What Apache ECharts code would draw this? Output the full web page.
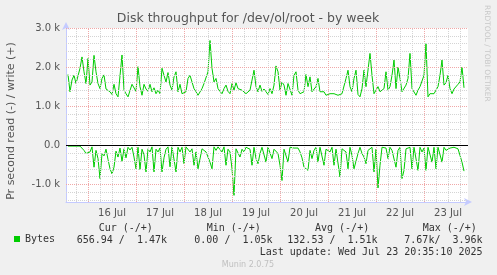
<!DOCTYPE html>
<html><head><meta charset="utf-8">
<script src="https://cdn.jsdelivr.net/npm/echarts@6/dist/echarts.min.js"></script>
<style>html,body{margin:0;padding:0;background:#f0f0f0;}#c{width:497px;height:275px;}</style>
</head><body><div id="c"></div>
<script>
// time in hours relative to 16 Jul 00:00, one sample per hour
const firstSampleHour = -10;
const sampleStepHours = 1;

// write (+) in kB/s
const writeKB = [
1.81,1.37,1.67,1.79,1.58,1.54,1.97,2.26,1.88,1.58,
2.22,1.54,1.62,2.30,1.88,1.58,1.45,1.71,1.80,1.44,
1.41,1.37,1.30,1.56,1.32,1.24,1.21,2.31,1.41,1.32,
1.24,1.26,1.56,1.52,1.38,2.01,1.50,1.28,1.56,1.44,
1.38,1.56,1.37,1.47,1.32,1.41,1.32,1.97,1.79,1.62,
1.86,
1.54,1.41,1.75,1.88,1.37,1.56,1.32,1.32,1.37,1.71,
1.79,1.75,1.45,1.37,1.28,1.26,1.45,1.58,1.62,1.88,
2.68,1.97,1.62,1.71,1.45,1.38,1.32,1.45,1.54,1.38,
1.32,1.58,1.41,1.60,1.45,1.44,1.41,1.38,1.32,1.32,
1.41,1.45,1.92,1.50,1.37,1.54,1.38,1.44,1.37,1.30,
1.45,1.32,1.54,2.03,1.88,1.41,1.62,1.54,1.28,1.58,
1.62,1.28,1.79,1.88,1.41,1.32,1.37,1.37,1.81,1.50,
1.75,1.37,1.37,1.50,1.71,1.37,1.32,1.37,1.28,1.28,
1.32,1.32,1.32,1.28,1.28,1.28,1.32,1.32,1.71,1.92,
1.50,1.37,1.71,1.92,1.30,1.24,1.45,1.92,1.50,1.45,
2.35,1.79,1.32,1.32,1.50,1.37,1.37,1.45,1.88,1.41,
1.50,1.79,2.18,1.45,2.00,1.71,1.37,1.37,1.54,1.71,
2.35,1.45,1.45,1.28,1.41,1.50,1.45,1.79,2.60,1.24,
1.32,1.37,1.32,1.32,1.50,1.79,2.18,1.54,1.60,1.79,
1.45,1.32,1.44,1.41,1.56,1.62,2.00,1.47
];

// read (-) in kB/s, drawn below zero
const readKB = [
0.02,0.03,0.02,0.03,0.02,0.00,0.02,0.00,0.13,0.21,
0.26,0.17,0.04,0.56,0.13,0.34,0.85,0.21,0.27,0.10,
0.36,0.60,0.73,0.56,0.15,0.30,0.07,0.41,0.09,0.32,
0.05,0.12,0.05,0.30,0.60,0.05,0.62,0.10,0.24,0.68,
0.09,0.17,0.04,0.68,0.10,0.17,0.07,0.68,0.32,0.10,
0.04,
0.55,0.04,0.09,0.68,0.05,0.17,0.05,0.47,0.04,0.05,
0.17,0.09,0.51,0.17,0.60,0.60,0.09,0.04,0.17,0.13,
0.43,0.60,0.04,0.13,0.04,0.05,0.17,0.04,0.51,0.10,
0.17,0.60,1.28,0.09,0.09,0.30,0.10,0.17,0.05,0.05,
0.10,0.51,0.05,0.34,0.47,0.21,0.05,0.09,0.43,0.05,
0.04,0.34,0.10,0.05,0.21,0.51,0.90,0.10,0.09,0.43,
0.05,0.10,0.07,0.04,0.07,0.17,0.32,0.56,0.60,0.64,
0.13,0.34,0.13,0.05,0.43,0.05,0.10,0.51,0.10,0.05,
0.17,0.05,0.51,0.10,0.15,0.81,0.09,0.10,0.17,0.60,
0.05,0.26,0.60,0.60,0.21,0.05,0.21,0.30,0.47,0.13,
0.09,0.05,0.68,0.10,1.09,0.51,0.05,0.05,0.07,0.34,
0.05,0.13,0.09,0.56,0.13,0.05,0.85,0.64,0.09,0.09,
0.05,0.60,0.05,0.10,0.64,0.05,0.17,0.07,0.64,0.05,
0.09,0.43,0.05,0.60,0.05,0.09,0.43,0.05,0.13,0.17,
0.07,0.09,0.05,0.05,0.09,0.05,0.43,0.66
];

const dayLabels = ['16 Jul','17 Jul','18 Jul','19 Jul','20 Jul','21 Jul','22 Jul','23 Jul'];
const dayLabelHours = [12,36,60,84,108,132,156,180];
const yTickValues = [-1,0,1,2,3];
const yTickLabels = ['-1.0 k','0.0','1.0 k','2.0 k','3.0 k'];

const titleText = 'Disk throughput for /dev/ol/root - by week';
const yAxisTitle = 'Pr second read (-) / write (+)';
const legendHeaders = ['Cur (-/+)','Min (-/+)','Avg (-/+)','Max (-/+)'];
const legendValues = ['656.94 /  1.47k','0.00 /  1.05k','132.53 /  1.51k','7.67k/  3.96k'];
const lastUpdate = 'Last update: Wed Jul 23 20:35:10 2025';
const footer = 'Munin 2.0.75';
const sideText = 'RRDTOOL / TOBI OETIKER';

const X_MIN = -11, X_MAX = 190, Y_MIN = -1.45, Y_MAX = 3.0;
const GREEN = '#00cc00';

const minorStyle = {color:'#d4d4d4', width:1, type:[1,1]};
const majorStyle = {color:'#f0a8a8', width:1, type:[1,1]};
const gridLines = [];
for (let h = -6; h <= 186; h += 6) {
  gridLines.push({xAxis: h, lineStyle: (h % 24 === 0) ? majorStyle : minorStyle});
}
for (let k = -14; k <= 30; k += 2) {
  if (k === 0) continue;
  gridLines.push({yAxis: k / 10, lineStyle: (k % 10 === 0) ? majorStyle : minorStyle});
}

const toPoints = (arr, sign) => arr.map((v, i) => [firstSampleHour + i * sampleStepHours, sign * v]);
const mono = '"DejaVu Sans Mono", monospace';
const sans = '"DejaVu Sans", sans-serif';

const chart = echarts.init(document.getElementById('c'), null, {renderer:'canvas'});
const headerX = [98.7, 206.7, 315, 422.7];
const valueX = [76.7, 194.3, 287.3, 404.3];
const graphics = [
  {type:'text', x:248, y:18.5, style:{text:titleText, font:'12.5px '+sans, fill:'#555', textAlign:'center', textVerticalAlign:'middle'}},
  {type:'text', x:11, y:121, rotation:Math.PI/2, style:{text:yAxisTitle, font:'11px '+sans, fill:'#555', textAlign:'center', textVerticalAlign:'middle'}},
  {type:'text', x:487, y:5, rotation:-Math.PI/2, style:{text:sideText, font:'7.5px '+sans, fill:'#c8c8c8', textAlign:'left', textVerticalAlign:'middle'}},
  {type:'text', x:482.5, y:252, style:{text:lastUpdate, font:'10px '+mono, fill:'#333', textAlign:'right', textVerticalAlign:'middle'}},
  {type:'text', x:248, y:264.5, style:{text:footer, font:'8px '+sans, fill:'#c0c0c0', textAlign:'center', textVerticalAlign:'middle'}}
];
legendHeaders.forEach((t, i) => graphics.push({type:'text', x:headerX[i], y:228, style:{text:t, font:'10px '+mono, fill:'#333', textAlign:'left', textVerticalAlign:'middle'}}));
legendValues.forEach((t, i) => graphics.push({type:'text', x:valueX[i], y:240, style:{text:t, font:'10px '+mono, fill:'#333', textAlign:'left', textVerticalAlign:'middle'}}));

chart.setOption({
  animation:false,
  backgroundColor:'#f0f0f0',
  grid:{left:66, right:29, top:28, bottom:73, show:true, backgroundColor:'#ffffff', borderWidth:0},
  legend:{data:['Bytes'], left:9, top:229, icon:'rect', itemWidth:6, itemHeight:6, selectedMode:false,
          textStyle:{fontFamily:mono, fontSize:10, color:'#333'}},
  xAxis:{type:'value', min:X_MIN, max:X_MAX,
    axisLine:{show:true, onZero:false, lineStyle:{color:'#c4caff', width:1}, symbol:['none','arrow'], symbolSize:[6,8], symbolOffset:[0,4]},
    axisTick:{show:false}, splitLine:{show:false},
    axisLabel:{customValues:dayLabelHours, formatter:v => dayLabels[dayLabelHours.indexOf(v)] || '', color:'#555', fontFamily:sans, fontSize:10, margin:6}},
  yAxis:{type:'value', min:Y_MIN, max:Y_MAX,
    axisLine:{show:true, onZero:false, lineStyle:{color:'#c4caff', width:1}, symbol:['none','arrow'], symbolSize:[6,8], symbolOffset:[0,6]},
    axisTick:{show:false}, splitLine:{show:false},
    axisLabel:{customValues:yTickValues, formatter:v => { const i = yTickValues.findIndex(t => Math.abs(t - v) < 1e-6); return i >= 0 ? yTickLabels[i] : ''; }, color:'#555', fontFamily:sans, fontSize:10, margin:6}},
  graphic:graphics,
  series:[
    {type:'line', data:[], z:1, silent:true,
     markLine:{symbol:'none', silent:true, animation:false, label:{show:false}, data:gridLines}},
    {name:'Bytes', type:'line', data:toPoints(writeKB, 1), showSymbol:false, z:2,
     lineStyle:{color:GREEN, width:1}, itemStyle:{color:GREEN}},
    {name:'Bytes', type:'line', data:toPoints(readKB, -1), showSymbol:false, z:2,
     lineStyle:{color:GREEN, width:1}, itemStyle:{color:GREEN}},
    {type:'line', data:[], z:5, silent:true,
     markLine:{symbol:'none', silent:true, animation:false, label:{show:false},
       data:[{yAxis:0}], lineStyle:{color:'#000000', width:1, type:'solid'}}}
  ]
});
</script>
</body></html>
